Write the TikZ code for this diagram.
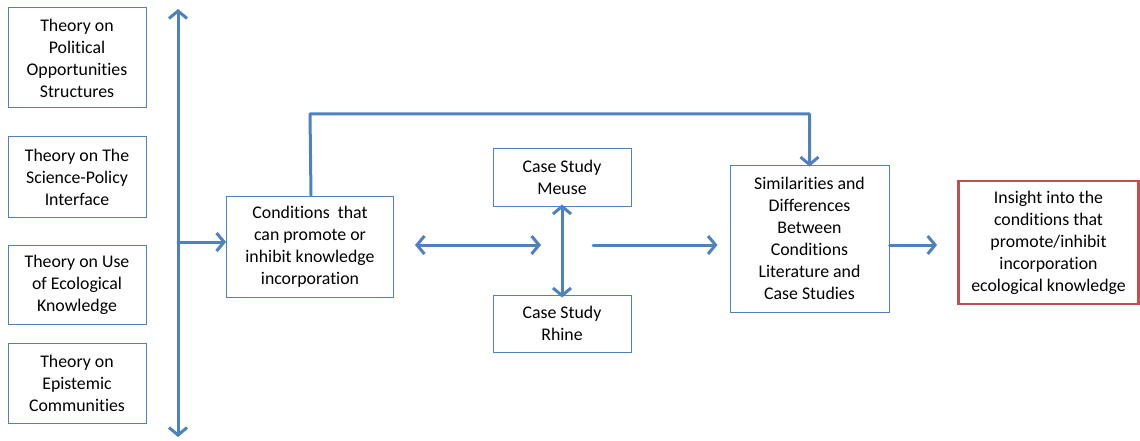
\documentclass[tikz,border=0pt]{standalone}
\usepackage{fontspec}
\setmainfont[Ligatures={NoCommon}]{Carlito}
\usetikzlibrary{arrows.meta}
\definecolor{lblue}{RGB}{79,129,189}
\definecolor{lred}{RGB}{192,80,77}
\begin{document}
\begin{tikzpicture}[x=1pt,y=-1pt,
  box/.style={draw=lblue,line width=1pt,fill=white,align=center,inner sep=0pt,
    font=\fontsize{17.8}{22}\selectfont},
  redbox/.style={box,draw=lred,line width=2.8pt},
  conn/.style={draw=lblue,line width=3pt,line cap=round,
    arrows={-Straight Barb[length=7.5pt,width=18pt,line width=3pt]}},
  dconn/.style={conn,arrows={Straight Barb[length=7.5pt,width=18pt,line width=3pt]-Straight Barb[length=7.5pt,width=18pt,line width=3pt]}},
  plain/.style={draw=lblue,line width=3pt,line cap=round}]
\useasboundingbox (0,0) rectangle (1140,441);
% left theory boxes
\node[box,minimum width=138pt,minimum height=100pt] (t1) at (77,58) {Theory on\\Political\\Opportunities\\Structures};
\node[box,minimum width=138pt,minimum height=80pt] (t2) at (77,177) {Theory on The\\Science-Policy\\Interface};
\node[box,minimum width=138pt,minimum height=79pt] (t3) at (77,284.5) {Theory on Use\\of Ecological\\Knowledge};
\node[box,minimum width=138pt,minimum height=80pt] (t4) at (77,383) {Theory on\\Epistemic\\Communities};
% vertical arrow
\coordinate (vtop) at (178,9);
\coordinate (vbot) at (178,437);
\coordinate (vmid) at (178,242);
\draw[dconn] (vtop) -- (vbot);
% conditions
\node[box,minimum width=167pt,minimum height=101pt] (cond) at (310,246.5) {Conditions\ \ that\\can promote or\\inhibit knowledge\\incorporation};
\draw[conn] (vmid) -- (vmid -| cond.west);
% case studies
\node[box,minimum width=138pt,minimum height=58pt] (meuse) at (562,177) {Case Study\\Meuse};
\node[box,minimum width=138pt,minimum height=57pt] (rhine) at (562,323.5) {Case Study\\Rhine};
\draw[dconn] ([yshift=2pt]meuse.south) -- ([yshift=-3pt]rhine.north);
\coordinate (dl) at (415,245);
\coordinate (dr) at (541,245);
\draw[dconn] (dl) -- (dr);
% similarities
\node[box,minimum width=159pt,minimum height=147pt] (sim) at (809.5,238.5) {Similarities and\\Differences\\Between\\Conditions\\Literature and\\Case Studies};
\coordinate (cs) at (593,245);
\draw[conn] (cs) -- ([xshift=-12pt]cs -| sim.west);
% top connector
\coordinate (topy) at (0,114);
\draw[plain,arrows={-Straight Barb[length=7.5pt,width=18pt,line width=3pt]},line join=round]
  ([xshift=1pt]cond.north) -- (cond.north |- topy) -- (sim.north |- topy) -- ([yshift=-2pt]sim.north);
% insight
\node[redbox,minimum width=180pt,minimum height=123pt] (ins) at (1048.5,242.5) {Insight into the\\conditions that\\promote/inhibit\\incorporation\\ecological knowledge};
\draw[conn] (sim.east |- cs) -- ([xshift=-20pt]ins.west |- cs);
\end{tikzpicture}
\end{document}
